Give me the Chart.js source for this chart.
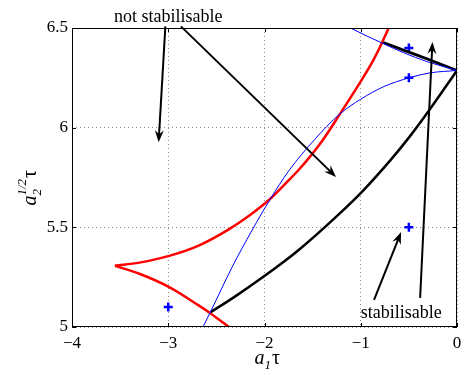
<!DOCTYPE html>
<html>
<head>
<meta charset="utf-8">
<script src="https://cdn.jsdelivr.net/npm/chart.js@4"></script>
<style>
  html, body { margin: 0; padding: 0; background: #fff; }
  #wrap { width: 464px; height: 375px; }
</style>
</head>
<body>
<div id="wrap"><canvas id="c"></canvas></div>
<script>
// Ejes y marcas
const X_TICKS = [-4, -3, -2, -1, 0];
const X_TICK_LABELS = ['−4', '−3', '−2', '−1', '0'];
const Y_TICKS = [5, 5.5, 6, 6.5];
const Y_TICK_LABELS = ['5', '5.5', '6', '6.5'];

// Curvas: pares [a1·tau, a2^(1/2)·tau]
const redUpper = [[-3.554, 5.307], [-3.3, 5.323], [-2.99, 5.357], [-2.678, 5.41], [-2.371, 5.49], [-2.15, 5.562],
  [-1.942, 5.642], [-1.75, 5.735], [-1.651, 5.785], [-1.548, 5.842], [-1.394, 5.938], [-1.222, 6.064],
  [-1.0, 6.232], [-0.862, 6.345], [-0.71, 6.5], [-0.68, 6.535]];
const redLower = [[-3.554, 5.307], [-3.3, 5.267], [-2.99, 5.2], [-2.68, 5.107], [-2.56, 5.068], [-2.37, 5.0], [-2.3, 4.975]];
const blueLower = [[-2.7, 4.94], [-2.639, 5.0], [-2.56, 5.077], [-2.337, 5.3], [-2.13, 5.485], [-1.942, 5.64],
  [-1.75, 5.782], [-1.48, 5.94], [-1.222, 6.067], [-1.0, 6.143], [-0.76, 6.206], [-0.492, 6.251],
  [-0.28, 6.275], [0, 6.287]];
const blueUpper = [[-1.25, 6.54], [-1.086, 6.495], [-0.78, 6.425], [-0.55, 6.375], [-0.315, 6.332], [0, 6.287]];
const blackUpper = [[-0.78, 6.43], [-0.55, 6.388], [-0.3, 6.343], [0, 6.287]];
const blackLower = [[-2.56, 5.074], [-2.3, 5.155], [-1.994, 5.258], [-1.651, 5.384], [-1.24, 5.56], [-0.97, 5.687],
  [-0.691, 5.837], [-0.5, 5.95], [-0.3, 6.08], [0, 6.287]];
const plusPoints = [[-3, 5.1], [-0.5, 5.5], [-0.5, 6.25], [-0.5, 6.4]];

// Flechas: [x0, y0, x1, y1] (de la cola a la punta)
const arrows = [
  [-3.03, 6.508, -3.10, 5.927],
  [-2.868, 6.508, -1.257, 5.753],
  [-0.862, 5.136, -0.581, 5.476],
  [-0.383, 5.146, -0.255, 6.43]
];
// Textos: [texto, x, y]
const notes = [
  ['not stabilisable', -3.0, 6.555],
  ['stabilisable', -0.58, 5.068]
];

const SERIF = '"Liberation Serif", "DejaVu Serif", serif';

function pts(arr) {
  return arr.map(([x, y]) => ({ x, y }));
}

function curve(data, color, width) {
  return {
    data: pts(data), showLine: true, borderColor: color, borderWidth: width,
    pointRadius: 0, cubicInterpolationMode: 'monotone', clip: 0, fill: false
  };
}

function tickLabel(values, labels) {
  return v => {
    const i = values.findIndex(t => Math.abs(t - v) < 1e-6);
    return i >= 0 ? labels[i] : '';
  };
}

// Marco, marcas internas, flechas, textos y rótulos de ejes
const decorations = {
  id: 'decorations',
  afterDatasetsDraw(chart) {
    const { ctx, chartArea: a, scales: { x, y } } = chart;
    ctx.save();

    ctx.strokeStyle = '#000';
    ctx.lineWidth = 1;
    ctx.strokeRect(a.left + 0.5, a.top + 0.5, a.right - a.left - 1, a.bottom - a.top - 1);
    ctx.beginPath();
    X_TICKS.forEach(t => {
      const px = Math.round(x.getPixelForValue(t)) + 0.5;
      ctx.moveTo(px, a.bottom); ctx.lineTo(px, a.bottom - 4);
      ctx.moveTo(px, a.top); ctx.lineTo(px, a.top + 4);
    });
    Y_TICKS.forEach(t => {
      const py = Math.round(y.getPixelForValue(t)) + 0.5;
      ctx.moveTo(a.left, py); ctx.lineTo(a.left + 4, py);
      ctx.moveTo(a.right, py); ctx.lineTo(a.right - 4, py);
    });
    ctx.stroke();

    ctx.lineWidth = 2;
    ctx.fillStyle = '#000';
    arrows.forEach(([x0, y0, x1, y1]) => {
      const p0 = [x.getPixelForValue(x0), y.getPixelForValue(y0)];
      const p1 = [x.getPixelForValue(x1), y.getPixelForValue(y1)];
      const ang = Math.atan2(p1[1] - p0[1], p1[0] - p0[0]);
      const len = 12, half = 4.5;
      const back = [p1[0] - len * Math.cos(ang), p1[1] - len * Math.sin(ang)];
      ctx.beginPath();
      ctx.moveTo(p0[0], p0[1]);
      ctx.lineTo(p1[0] - 4 * Math.cos(ang), p1[1] - 4 * Math.sin(ang));
      ctx.stroke();
      ctx.beginPath();
      ctx.moveTo(p1[0], p1[1]);
      ctx.lineTo(back[0] + half * Math.sin(ang), back[1] - half * Math.cos(ang));
      ctx.lineTo(p1[0] - 8 * Math.cos(ang), p1[1] - 8 * Math.sin(ang));
      ctx.lineTo(back[0] - half * Math.sin(ang), back[1] + half * Math.cos(ang));
      ctx.closePath();
      ctx.fill();
    });

    ctx.font = '18px ' + SERIF;
    ctx.textAlign = 'center';
    ctx.textBaseline = 'middle';
    notes.forEach(([txt, tx, ty]) => {
      ctx.fillText(txt, x.getPixelForValue(tx), y.getPixelForValue(ty));
    });

    // Rótulo eje x: a_1 tau
    ctx.textAlign = 'left';
    ctx.textBaseline = 'alphabetic';
    let cx = (a.left + a.right) / 2 - 10, by = 364;
    ctx.font = 'italic 20px ' + SERIF;
    ctx.fillText('a', cx, by);
    cx += ctx.measureText('a').width;
    ctx.font = 'italic 13px ' + SERIF;
    ctx.fillText('1', cx, by + 5);
    cx += ctx.measureText('1').width + 1;
    ctx.font = '20px ' + SERIF;
    ctx.fillText('τ', cx, by);

    // Rótulo eje y: a_2^{1/2} tau (rotado)
    ctx.translate(36, (a.top + a.bottom) / 2 + 4);
    ctx.rotate(-Math.PI / 2);
    cx = -24;
    ctx.font = 'italic 20px ' + SERIF;
    ctx.fillText('a', cx, 0);
    cx += ctx.measureText('a').width;
    ctx.font = 'italic 13px ' + SERIF;
    ctx.fillText('2', cx, 5);
    ctx.fillText('1/2', cx, -10);
    cx += ctx.measureText('1/2').width + 1;
    ctx.font = '20px ' + SERIF;
    ctx.fillText('τ', cx, 0);

    ctx.restore();
  }
};

const chart = new Chart(document.getElementById('c'), {
  type: 'scatter',
  data: {
    datasets: [
      curve(blueLower, '#0000ff', 1),
      curve(blueUpper, '#0000ff', 1),
      curve(redUpper, '#ff0000', 2.5),
      curve(redLower, '#ff0000', 2.5),
      curve(blackLower, '#000000', 2.5),
      curve(blackUpper, '#000000', 2.8),
      {
        data: pts(plusPoints), showLine: false, pointStyle: 'cross', pointRadius: 4.5,
        borderColor: '#0000ff', pointBorderWidth: 2.5, backgroundColor: '#0000ff'
      }
    ]
  },
  options: {
    responsive: true,
    maintainAspectRatio: false,
    animation: false,
    layout: { padding: { top: 28, right: 3.5, left: 0, bottom: 0 } },
    plugins: { legend: { display: false }, tooltip: { enabled: false } },
    scales: {
      x: {
        type: 'linear', min: -4, max: 0,
        ticks: { stepSize: 1, color: '#000', font: { family: SERIF, size: 17 }, padding: 6, maxRotation: 0,
          callback: tickLabel(X_TICKS, X_TICK_LABELS) },
        grid: { color: '#8c8c8c', drawTicks: false, lineWidth: 1 },
        border: { display: false, dash: [1, 3] },
        afterFit: s => { s.height = 48; s.paddingLeft = 0; s.paddingRight = 0; }
      },
      y: {
        type: 'linear', min: 5, max: 6.5,
        ticks: { stepSize: 0.5, color: '#000', font: { family: SERIF, size: 17 }, padding: 4,
          callback: tickLabel(Y_TICKS, Y_TICK_LABELS) },
        grid: { color: '#8c8c8c', drawTicks: false, lineWidth: 1 },
        border: { display: false, dash: [1, 3] },
        afterFit: s => { s.width = 72; s.paddingTop = 0; s.paddingBottom = 0; }
      }
    }
  },
  plugins: [decorations]
});
</script>
</body>
</html>
